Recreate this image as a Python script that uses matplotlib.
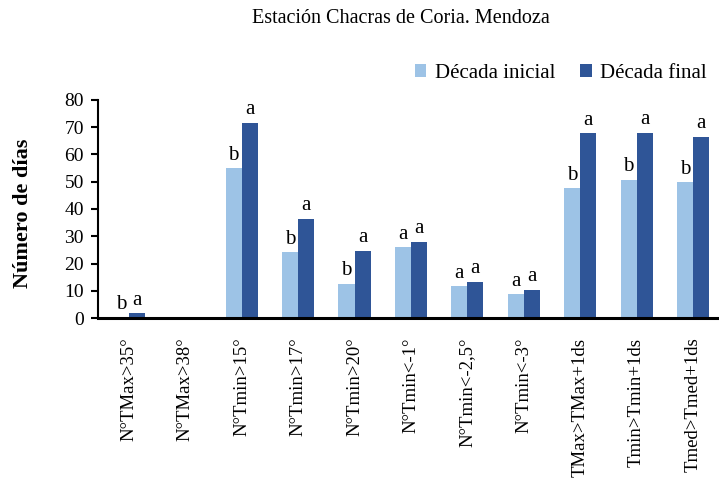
import matplotlib
matplotlib.use("Agg")
import matplotlib.pyplot as plt
import numpy as np

categories = ["N°TMax>35°", "N°TMax>38°", "N°Tmin>15°", "N°Tmin>17°", "N°Tmin>20°",
              "N°Tmin<-1°", "N°Tmin<-2,5°", "N°Tmin<-3°", "TMax>TMax+1ds",
              "Tmin>Tmin+1ds", "Tmed>Tmed+1ds"]
inicial = [0.3, 0, 54.9, 24.2, 12.6, 26.0, 11.6, 8.8, 47.6, 50.6, 49.7]
final = [1.8, 0, 71.6, 36.4, 24.6, 27.9, 13.4, 10.4, 67.7, 68.0, 66.5]
letras_ini = ["b", "", "b", "b", "b", "a", "a", "a", "b", "b", "b"]
letras_fin = ["a", "", "a", "a", "a", "a", "a", "a", "a", "a", "a"]

plt.rcParams["font.family"] = ["Liberation Serif", "DejaVu Serif"]

fig = plt.figure(figsize=(7.19, 4.82), dpi=100)
ax = fig.add_axes([0.136, 0.340, 0.864, 0.453])

x = np.arange(len(categories))
w = 0.285
c_ini = "#9DC3E6"
c_fin = "#2F5597"
ax.bar(x - w / 2, inicial, w, color=c_ini, label="Década inicial")
ax.bar(x + w / 2, final, w, color=c_fin, label="Década final")

for i in range(len(categories)):
    if letras_ini[i]:
        ax.text(x[i] - w / 2, inicial[i] + 1.3, letras_ini[i], ha="center", va="bottom", fontsize=15)
    if letras_fin[i]:
        ax.text(x[i] + w / 2, final[i] + 1.3, letras_fin[i], ha="center", va="bottom", fontsize=15)

ax.set_xlim(-0.55, 10.46)
ax.set_ylim(0, 80)
ax.set_yticks(range(0, 81, 10))
ax.set_xticks(x)
ax.set_xticklabels(categories, rotation=90, fontsize=13.5)
ax.tick_params(axis="x", length=0, pad=14)
ax.tick_params(axis="y", direction="out", length=5, width=1.5, labelsize=14, pad=5)
for s in ["top", "right"]:
    ax.spines[s].set_visible(False)
ax.spines["left"].set_linewidth(1.5)
ax.spines["bottom"].set_linewidth(2.2)

ax.set_ylabel("Número de días", fontsize=16, fontweight="bold")
ax.yaxis.set_label_coords(-0.105, 0.48)
fig.text(0.557, 0.962, "Estación Chacras de Coria. Mendoza", ha="center", va="center", fontsize=14.5)
fig.legend(loc="center", bbox_to_anchor=(0.78, 0.848), ncol=2, frameon=False,
           fontsize=15, handlelength=0.55, handleheight=0.55, handletextpad=0.4,
           columnspacing=1.2)

fig.savefig("out.png", dpi=100)
